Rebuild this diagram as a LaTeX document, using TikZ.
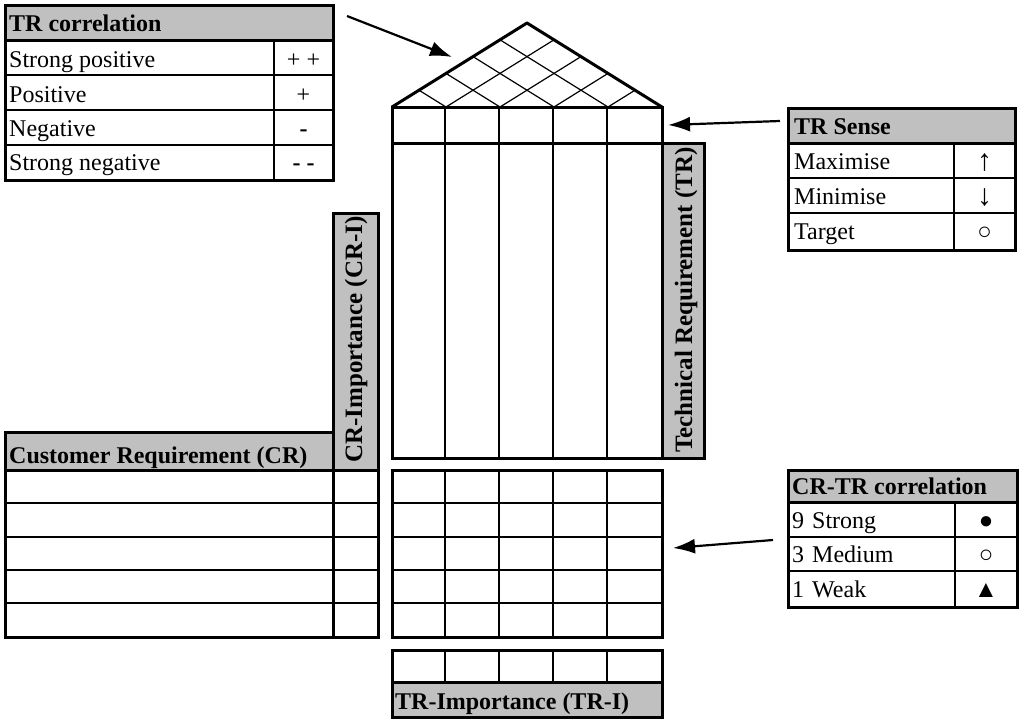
\documentclass[tikz,border=0pt]{standalone}
\usepackage{fontspec}
\setmainfont{Liberation Serif}
\usetikzlibrary{arrows.meta}
\definecolor{hdgray}{RGB}{192,192,192}
\begin{document}
\begin{tikzpicture}[x=1pt, y=-1pt, every node/.style={font=\fontsize{24}{28}\selectfont, inner sep=0pt}, frame/.style={line width=3pt}, grid/.style={line width=1.8pt}, hatch/.style={line width=1.2pt}, head/.style={font=\fontsize{24}{28}\selectfont\bfseries, anchor=base west}, vhead/.style={font=\fontsize{25}{28}\selectfont\bfseries, anchor=base west, rotate=90}, txt/.style={anchor=base west}, sym/.style={anchor=base}, bigsym/.style={anchor=base, font=\fontsize{30}{30}\selectfont}, ptr/.style={line width=2.2pt, -{Latex[length=22pt,width=15pt]}}]
\useasboundingbox (0,0) rectangle (1021,720);
% TR correlation legend
\fill[hdgray] (5,5) rectangle (333,40);
\draw[grid] (274,40) -- (274,180) (5,75) -- (333,75) (5,110) -- (333,110) (5,145) -- (333,145);
\draw[frame] (5,5) rectangle (333,180) (5,40) -- (333,40);
\node[head] (trc) at (9,31) {TR correlation};
\node[txt] (sp) at (9,67) {Strong positive}; \node[sym] (spv) at (303.5,67) {+ +};
\node[txt] (po) at (9,102) {Positive}; \node[sym] (pov) at (303.5,102) {+};
\node[txt] (ne) at (9,136) {Negative}; \node[sym] (nev) at (303.5,136) {\textbf{-}};
\node[txt] (sn) at (9,170) {Strong negative}; \node[sym] (snv) at (303.5,170) {\textbf{- -}};
% roof
\foreach \i in {1,...,4} \draw[hatch] ({392+27*\i},{107-16.8*\i}) -- ({392+54*\i},107) -- ({392+54*\i+27*(5-\i)},{107-16.8*(5-\i)});
\draw[frame, line join=round] (392,107) -- (527,23) -- (662,107);
% TR sense row and TR columns
\foreach \x in {445,499,553,607} \draw[grid] (\x,107) -- (\x,458);
\draw[frame] (392,107) rectangle (662,143) (392,143) rectangle (662,458);
\fill[hdgray] (662,143) rectangle (704,458); \draw[frame] (662,143) rectangle (704,458);
\node[vhead] (trl) at (692,453) {Technical Requirement (TR)};
% CR importance
\fill[hdgray] (333,213) rectangle (378,470);
\node[vhead] (cril) at (362,463) {CR-Importance (CR-I)};
% customer requirements
\fill[hdgray] (5,432) rectangle (333,470);
\node[head] (crl) at (9,463) {Customer Requirement (CR)};
\foreach \y in {503,537,570,603} \draw[grid] (5,\y) -- (378,\y);
\draw[frame] (5,432) rectangle (333,637) (333,213) rectangle (378,637) (5,470) -- (378,470);
% relationship matrix
\foreach \x in {445,499,553,607} \draw[grid] (\x,470) -- (\x,637);
\foreach \y in {503,537,570,603} \draw[grid] (392,\y) -- (662,\y);
\draw[frame] (392,470) rectangle (662,637);
% TR importance
\fill[hdgray] (392,682) rectangle (662,717);
\foreach \x in {445,499,553,607} \draw[grid] (\x,650) -- (\x,682);
\draw[frame] (392,650) rectangle (662,717) (392,682) -- (662,682);
\node[head] (tril) at (395,709) {TR-Importance (TR-I)};
% TR sense legend
\fill[hdgray] (788,108) rectangle (1015,143);
\draw[grid] (954,143) -- (954,250) (788,178) -- (1015,178) (788,213) -- (1015,213);
\draw[frame] (788,108) rectangle (1015,250) (788,143) -- (1015,143);
\node[head] (tse) at (794,134) {TR Sense};
\node[txt] (mx) at (794,169) {Maximise}; \node[bigsym] (mxv) at (984.5,170) {↑};
\node[txt] (mn) at (794,204) {Minimise}; \node[bigsym] (mnv) at (984.5,205) {↓};
\node[txt] (tg) at (794,239) {Target}; \node[sym] (tgv) at (984.5,239) {○};
% CR-TR correlation legend
\fill[hdgray] (788,470) rectangle (1017,502);
\draw[grid] (955,502) -- (955,607) (788,537) -- (1017,537) (788,571) -- (1017,571);
\draw[frame] (788,470) rectangle (1017,607) (788,502) -- (1017,502);
\node[head] (crtr) at (792,494) {CR-TR correlation};
\node[txt] (st) at (792,528) {9\hspace{8pt}Strong}; \node[sym] (stv) at (986,528) {●};
\node[txt] (md) at (792,562) {3\hspace{8pt}Medium}; \node[sym] (mdv) at (986,562) {○};
\node[txt] (wk) at (792,597) {1\hspace{8pt}Weak}; \node[sym] (wkv) at (986,597) {▲};
% pointers
\coordinate (p1) at (347,16); \coordinate (q1) at (452,57); \draw[ptr] (p1) -- (q1);
\coordinate (p2) at (780,121); \coordinate (q2) at (668,125); \draw[ptr] (p2) -- (q2);
\coordinate (p3) at (773,540); \coordinate (q3) at (673,548); \draw[ptr] (p3) -- (q3);
\end{tikzpicture}
\end{document}
